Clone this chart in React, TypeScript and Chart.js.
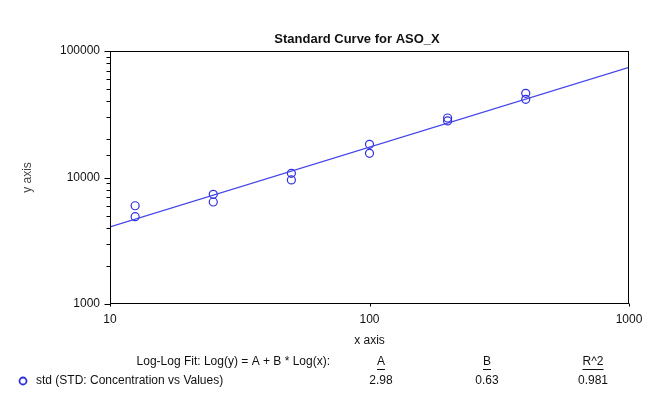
import React, { useEffect, useRef } from "react";
import { Chart, registerables } from "chart.js";

Chart.register(...registerables);

const TITLE = "Standard Curve for ASO_X";
const X_AXIS_TITLE = "x axis";
const Y_AXIS_TITLE = "y axis";

const concentrations = [12.5, 12.5, 25, 25, 50, 50, 100, 100, 200, 200, 400, 400];
const values = [5980, 4900, 7360, 6400, 10790, 9560, 18290, 15540, 29540, 27980, 46300, 41520];

const fitX = [10, 1000];
const fitY = [4074, 74131];

const xTickLabels = [10, 100, 1000];
const yTickLabels = [1000, 10000, 100000];

const fitLabel = "Log-Log Fit: Log(y) = A + B * Log(x):";
const paramNames = ["A", "B", "R^2"];
const seriesName = "std (STD: Concentration vs Values)";
const paramValues = ["2.98", "0.63", "0.981"];

const FONT = '"Liberation Sans", Arial, sans-serif';
const BLUE_LINE = "#4545ea";
const BLUE_PT = "#2f2fe0";
const TEXT = "#111111";

const decorPlugin = {
  id: "decor",
  afterDraw(chart: any) {
    const { ctx, chartArea } = chart;
    const { left, right, top, bottom } = chartArea;
    const x = chart.scales.x;
    const y = chart.scales.y;
    ctx.save();
    // frame
    ctx.strokeStyle = "#000";
    ctx.lineWidth = 1;
    const L = Math.round(left) + 0.5;
    const R = Math.round(right) - 0.5;
    const T = Math.round(top) + 0.5;
    const B = Math.round(bottom) - 0.5;
    ctx.strokeRect(L, T, R - L, B - T);
    // y ticks
    ctx.beginPath();
    for (const t of y.ticks) {
      const py = Math.round(y.getPixelForValue(t.value)) + 0.5;
      const major = yTickLabels.includes(t.value);
      const len = major ? 6 : 4;
      ctx.moveTo(L - len, py);
      ctx.lineTo(L, py);
    }
    // x ticks
    for (const v of xTickLabels) {
      const px = Math.round(x.getPixelForValue(v)) + 0.5;
      ctx.moveTo(px, B);
      ctx.lineTo(px, B + 3);
    }
    ctx.stroke();

    // title
    ctx.fillStyle = TEXT;
    ctx.font = "bold 13px " + FONT;
    ctx.textAlign = "center";
    ctx.textBaseline = "middle";
    ctx.fillText(TITLE, 357, 39);

    // footer row 1
    ctx.font = "12px " + FONT;
    ctx.textAlign = "right";
    ctx.fillText(fitLabel, 330, 362);
    const colX = [381, 487, 593];
    ctx.textAlign = "center";
    paramNames.forEach((n, i) => {
      ctx.fillText(n, colX[i], 362);
      const w = ctx.measureText(n).width;
      ctx.beginPath();
      ctx.moveTo(colX[i] - w / 2, 369.5);
      ctx.lineTo(colX[i] + w / 2, 369.5);
      ctx.strokeStyle = TEXT;
      ctx.stroke();
    });
    // footer row 2
    ctx.beginPath();
    ctx.arc(23, 381, 3.5, 0, Math.PI * 2);
    ctx.strokeStyle = BLUE_PT;
    ctx.lineWidth = 1.8;
    ctx.stroke();
    ctx.textAlign = "left";
    ctx.fillText(seriesName, 36, 381);
    ctx.textAlign = "center";
    paramValues.forEach((v, i) => {
      ctx.fillText(v, colX[i], 381);
    });
    ctx.restore();
  },
};

export default function App() {
  const ref = useRef<HTMLCanvasElement | null>(null);

  useEffect(() => {
    if (!ref.current) return;
    const chart = new Chart(ref.current, {
      type: "scatter",
      data: {
        datasets: [
          {
            label: "fit",
            data: fitX.map((xv, i) => ({ x: xv, y: fitY[i] })),
            showLine: true,
            borderColor: BLUE_LINE,
            borderWidth: 1.2,
            pointRadius: 0,
            fill: false,
          },
          {
            label: seriesName,
            data: concentrations.map((xv, i) => ({ x: xv, y: values[i] })),
            showLine: false,
            pointStyle: "circle",
            pointRadius: 4,
            pointBorderWidth: 1.2,
            pointBackgroundColor: "rgba(0,0,0,0)",
            pointBorderColor: BLUE_PT,
            borderColor: BLUE_PT,
          },
        ],
      },
      options: {
        responsive: false,
        animation: false,
        devicePixelRatio: 1,
        layout: { padding: { left: 0, right: 37, top: 51, bottom: 59 } },
        plugins: {
          legend: { display: false },
          tooltip: { enabled: false },
          title: { display: false },
        },
        scales: {
          x: {
            type: "logarithmic",
            min: 10,
            max: 1000,
            grid: { display: false, drawTicks: false },
            border: { display: false },
            ticks: {
              autoSkip: false,
              maxRotation: 0,
              padding: 8,
              color: TEXT,
              font: { family: FONT, size: 12 },
              callback: (v: any) => (xTickLabels.includes(Number(v)) ? String(v) : ""),
            },
            title: {
              display: true,
              text: X_AXIS_TITLE,
              color: TEXT,
              font: { family: FONT, size: 12 },
              padding: { top: 0, bottom: 0 },
            },
            afterFit: (s: any) => {
              s.height = 44;
            },
          },
          y: {
            type: "logarithmic",
            min: 1000,
            max: 100000,
            grid: { display: false, drawTicks: false },
            border: { display: false },
            ticks: {
              autoSkip: false,
              padding: 10,
              color: TEXT,
              font: { family: FONT, size: 12 },
              callback: (v: any) => (yTickLabels.includes(Number(v)) ? String(v) : ""),
            },
            title: {
              display: true,
              text: Y_AXIS_TITLE,
              color: "#444",
              font: { family: FONT, size: 12 },
              padding: { top: 20, bottom: 0 },
            },
            afterFit: (s: any) => {
              s.width = 110;
            },
          },
        },
      },
      plugins: [decorPlugin],
    } as any);
    return () => chart.destroy();
  }, []);

  return (
    <div style={{ position: "fixed", left: 0, top: 0, width: 666, height: 407, background: "#fff" }}>
      <canvas ref={ref} width={666} height={407} style={{ display: "block" }} />
    </div>
  );
}
